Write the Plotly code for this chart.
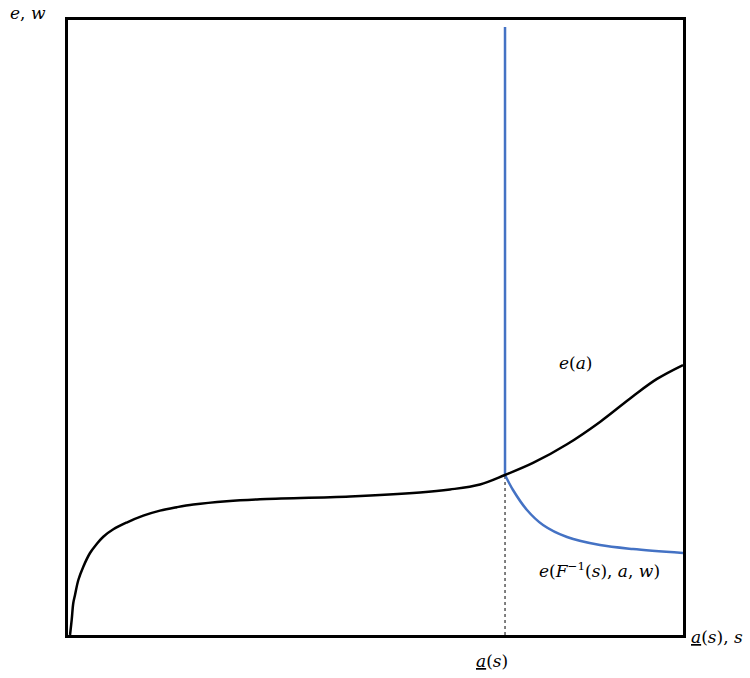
import plotly.graph_objects as go

# e(a) curve (normalized units, box = [0,1] x [0,1])
e_x = [0.0033, 0.0060, 0.0086, 0.0114, 0.0168, 0.0249, 0.0358, 0.0467, 0.0574,
       0.0737, 0.0954, 0.1224, 0.1496, 0.1768, 0.2038, 0.2580, 0.3122,
       0.4585, 0.5724, 0.6211, 0.6699, 0.7106, 0.7561,
       0.8114, 0.8650, 0.9187, 0.9577, 1.0]
e_y = [0.0, 0.0244, 0.0520, 0.0650, 0.0894, 0.1110, 0.1333, 0.1480, 0.1598,
       0.1719, 0.1829, 0.1941, 0.2023, 0.2078, 0.2122, 0.2176, 0.2208,
       0.2252, 0.2317, 0.2366, 0.2447, 0.2602, 0.2797,
       0.3102, 0.3465, 0.3883, 0.4164, 0.4390]

# e(F^-1(s), a, w) curve: vertical part then decreasing branch
a_star = 0.7106
f_x = [0.7106, 0.7106, 0.7236, 0.7463, 0.7724, 0.8114, 0.8650, 0.9187, 1.0]
f_y = [0.9886, 0.2602, 0.2358, 0.2033, 0.1789, 0.1593, 0.1463, 0.1398, 0.1333]

dash_x = [a_star, a_star]
dash_y = [0, 0.2602]

fig = go.Figure()
fig.add_trace(go.Scatter(x=dash_x, y=dash_y, mode="lines",
                         line=dict(color="black", width=1, dash="3px,3px"),
                         hoverinfo="skip"))
fig.add_trace(go.Scatter(x=f_x[:2], y=f_y[:2], mode="lines",
                         line=dict(color="#4472C4", width=2.5), hoverinfo="skip"))
fig.add_trace(go.Scatter(x=f_x[1:], y=f_y[1:], mode="lines",
                         line=dict(color="#4472C4", width=2.5, shape="spline", smoothing=0.9),
                         hoverinfo="skip"))
fig.add_trace(go.Scatter(x=e_x, y=e_y, mode="lines",
                         line=dict(color="black", width=2.5, shape="spline", smoothing=1.0),
                         hoverinfo="skip"))

font = dict(family="DejaVu Serif, Liberation Serif, serif", size=17, color="black")

def ann(text, x, y, xanchor="center"):
    fig.add_annotation(text=text, x=x, y=y, xref="paper", yref="paper", showarrow=False,
                       font=font, xanchor=xanchor, yanchor="middle")

ann("<i>e</i>, <i>w</i>", -0.0650, 1.0114)
ann("<i>e</i>(<i>a</i>)", 0.8244, 0.4423)
ann("<i>e</i>(<i>F</i><sup>−1</sup>(<i>s</i>), <i>a</i>, <i>w</i>)", 0.8650, 0.1057)
ann("<u><i>a</i></u>(<i>s</i>), <i>s</i>", 1.0098, -0.0033, xanchor="left")
ann("<u><i>a</i></u>(<i>s</i>)", 0.690, -0.042)

fig.update_layout(
    width=750, height=678,
    margin=dict(l=68, r=67, t=20, b=43),
    plot_bgcolor="white", paper_bgcolor="white",
    showlegend=False,
    xaxis=dict(range=[0, 1], showgrid=False, zeroline=False, showticklabels=False,
               ticks="", showline=True, linecolor="black", linewidth=2.5, mirror=True),
    yaxis=dict(range=[0, 1], showgrid=False, zeroline=False, showticklabels=False,
               ticks="", showline=True, linecolor="black", linewidth=2.5, mirror=True),
)

fig.write_html("out.html", config={"displayModeBar": False},
               post_script="document.body.style.margin='0px';")
